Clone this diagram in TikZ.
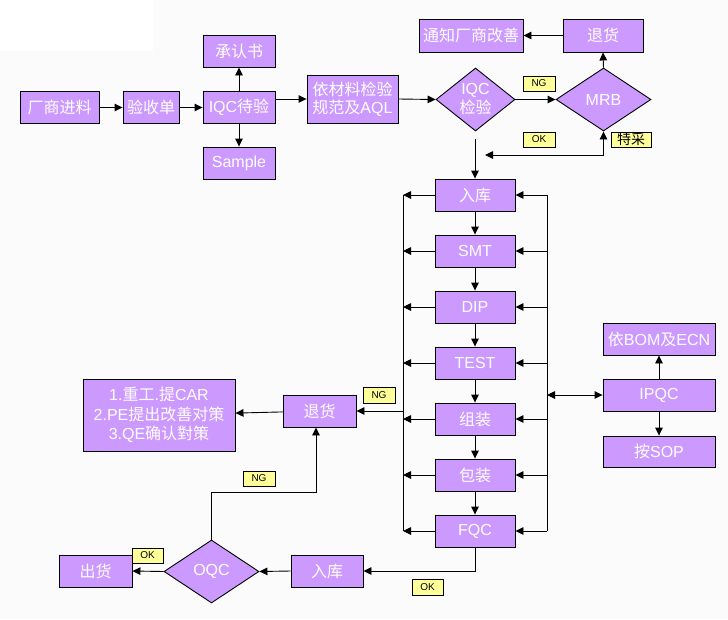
\documentclass[tikz,border=0pt]{standalone}
\usepackage{fontspec}
\setmainfont{Liberation Sans}
\newfontfamily\cjk{Noto Sans CJK SC}
\newcommand{\zh}[1]{{\cjk #1}}
\usetikzlibrary{shapes.geometric,arrows.meta}
\definecolor{boxfill}{HTML}{CC99FF}
\definecolor{labfill}{HTML}{FFFF99}
\definecolor{bg}{HTML}{FBFBFB}
\begin{document}
\begin{tikzpicture}[x=1pt,y=-1pt,
  box/.style={draw=black, line width=0.9pt, fill=boxfill, text=white, inner sep=0pt,
    font=\fontsize{16}{19}\selectfont, align=center},
  dia/.style={box, diamond, shape aspect=1.25},
  lab/.style={draw=black, line width=0.8pt, fill=labfill, text=black, inner sep=0pt,
    font=\fontsize{10}{11}\selectfont, minimum width=32pt, minimum height=15pt},
  ln/.style={line width=0.9pt},
  arr/.style={line width=0.9pt, -{Triangle[length=8pt,width=7.5pt]}},
  arrb/.style={line width=0.9pt, {Triangle[length=8pt,width=7.5pt]}-{Triangle[length=8pt,width=7.5pt]}}]
\useasboundingbox (0,0) rectangle (728,619);
\fill[bg] (0,0) rectangle (728,619);
\fill[white] (0,0) rectangle (153,51);

% top row
\node[box, minimum width=79pt, minimum height=32pt] (fac) at (59.5,107.5) {\zh{厂商进料}};
\node[box, minimum width=56pt, minimum height=32pt] (ysd) at (151,107.5) {\zh{验收单}};
\node[box, minimum width=72pt, minimum height=32pt] (iqcw) at (239,107.5) {IQC\zh{待验}};
\node[box, minimum width=72pt, minimum height=32pt] (cert) at (239,51) {\zh{承认书}};
\node[box, minimum width=72pt, minimum height=32pt] (smp) at (239,163) {Sample};
\node[box, minimum width=91pt, minimum height=48pt, font=\fontsize{16}{17.5}\selectfont] (aql) at (352.5,99) {\zh{依材料检验}\\\zh{规范及}AQL};
\node[dia, minimum width=79pt, minimum height=63pt] (iqcd) at (475.5,99.5) {IQC\\\zh{检验}};
\node[dia, shape aspect=1.5, minimum width=95pt, minimum height=63pt] (mrb) at (603.5,99.5) {MRB};
\node[box, minimum width=104pt, minimum height=33pt] (ntf) at (471,35.5) {\zh{通知厂商改善}};
\node[box, minimum width=80pt, minimum height=33pt] (ret1) at (603,35.5) {\zh{退货}};

\node[lab] (ng1) at (539,83.5) {NG};
\node[lab] (ok1) at (539,139.5) {OK};
\node[lab, minimum width=40pt, font=\fontsize{14}{15}\selectfont] (tc) at (631,139.5) {\zh{特采}};

% column
\node[box, minimum width=80pt, minimum height=32pt] (rk1) at (475,195) {\zh{入库}};
\node[box, minimum width=80pt, minimum height=32pt] (smt) at (475,251) {SMT};
\node[box, minimum width=80pt, minimum height=32pt] (dip) at (475,307) {DIP};
\node[box, minimum width=80pt, minimum height=32pt] (tst) at (475,363) {TEST};
\node[box, minimum width=80pt, minimum height=32pt] (zz) at (475,419) {\zh{组装}};
\node[box, minimum width=80pt, minimum height=32pt] (bz) at (475,475) {\zh{包装}};
\node[box, minimum width=80pt, minimum height=32pt] (fqc) at (475,531) {FQC};

% IPQC
\node[box, minimum width=112pt, minimum height=32pt] (ipqc) at (659,395) {IPQC};
\node[box, minimum width=112pt, minimum height=32pt] (bom) at (659,339) {\zh{依}BOM\zh{及}ECN};
\node[box, minimum width=112pt, minimum height=31pt] (sop) at (659,451.5) {\zh{按}SOP};

% left part
\node[box, minimum width=152pt, minimum height=72pt, font=\fontsize{16}{19.5}\selectfont] (big) at (159,415) {1.\zh{重工}.\zh{提}CAR\\2.PE\zh{提出改善对策}\\3.QE\zh{确认對策}};
\node[box, minimum width=73pt, minimum height=32pt] (ret2) at (319.5,411) {\zh{退货}};
\node[dia, shape aspect=1.5, minimum width=95pt, minimum height=63pt] (oqc) at (211.5,571.5) {OQC};
\node[box, minimum width=73pt, minimum height=32pt] (ship) at (95.5,571) {\zh{出货}};
\node[box, minimum width=72pt, minimum height=32pt] (rk2) at (327,571) {\zh{入库}};

\node[lab, minimum height=16pt] (ng2) at (379,395) {NG};
\node[lab] (ng3) at (259,478.5) {NG};
\node[lab, minimum width=31pt] (ok2) at (147.5,555.5) {OK};
\node[lab, minimum width=31pt, minimum height=16pt] (ok3) at (427.5,587) {OK};

% connectors top
\draw[arr] (fac) -- (ysd);
\draw[arr] (ysd) -- (iqcw);
\draw[arr] (iqcw) -- (cert);
\draw[arr] (iqcw) -- (smp);
\draw[arr] (iqcw.east |- aql.west) -- (aql.west);
\draw[arr] (aql.east) -- (iqcd.west);
\draw[arr] (iqcd.east) -- (mrb.west);
\draw[arr] (mrb.north) -- (ret1.south);
\draw[arr] (ret1) -- (ntf);
\coordinate (okp) at (485,155);
\draw[arrb] (mrb.south) |- (okp);
\coordinate (iqcb) at (475,139);
\draw[arr] (iqcb) -- (rk1.north);

% column chain
\draw[arr] (rk1) -- (smt);
\draw[arr] (smt) -- (dip);
\draw[arr] (dip) -- (tst);
\draw[arr] (tst) -- (zz);
\draw[arr] (zz) -- (bz);
\draw[arr] (bz) -- (fqc);

% buses
\coordinate (lt) at (403,195);
\coordinate (lb) at (403,531);
\coordinate (rt) at (547,195);
\coordinate (rb) at (547,531);
\draw[ln] (lt) -- (lb);
\draw[ln] (rt) -- (rb);
\foreach \n in {rk1,smt,dip,tst,zz,bz,fqc}{
  \draw[arr] (\n.west) -- (\n.west -| lt);
  \draw[arr] (\n.east -| rt) -- (\n.east);
}
\draw[arrb] (ipqc.west -| rt) -- (ipqc.west);
\draw[arr] (ipqc) -- (bom);
\draw[arr] (ipqc) -- (sop);
\draw[arr] (ret2.east -| lt) -- (ret2.east);
\draw[arr] (ret2) -- (big);

% bottom
\draw[arr] (fqc.south) |- (rk2.east);
\draw[arr] (rk2.west) -- (oqc.east);
\draw[arr] (oqc.west) -- (ship.east);
\coordinate (ngc) at (316,492);
\draw[arr] (oqc.north) |- (ngc) -- (ngc |- ret2.south);
\end{tikzpicture}
\end{document}
